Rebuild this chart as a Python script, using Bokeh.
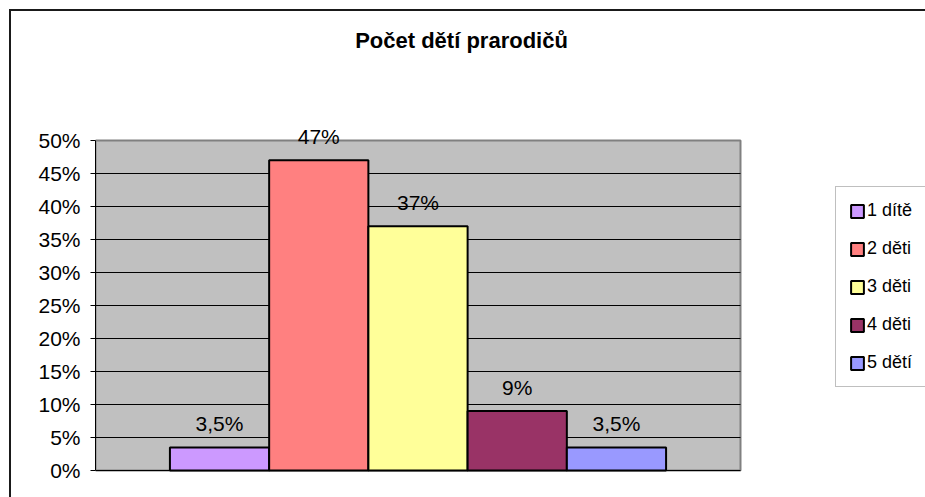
from bokeh.plotting import figure
from bokeh.models import (ColumnDataSource, Range1d, FixedTicker, PrintfTickFormatter)
from bokeh.core.properties import value
from bokeh.embed import file_html
from bokeh.resources import INLINE

# ---- data ----
title_text = "Počet dětí prarodičů"
categories = ["1 dítě", "2 děti", "3 děti", "4 děti", "5 dětí"]
values = [3.5, 47, 37, 9, 3.5]
value_labels = ["3,5%", "47%", "37%", "9%", "3,5%"]
colors = ["#CC99FF", "#FF8080", "#FFFF99", "#993366", "#9999FF"]
y_ticks = [0, 5, 10, 15, 20, 25, 30, 35, 40, 45, 50]

FONT = "Liberation Sans"

# ---- layout (pixels) ----
W, H = 925, 497
PLOT_L, PLOT_R, PLOT_T, PLOT_B = 95, 740, 140, 470     # gray plot area on the page
GAP = 0.75                                            # half of Excel gap width (150%)
n = len(categories)
x_lo, x_hi = 1 - 0.5 - GAP, n + 0.5 + GAP             # plot-area extent in data units
y_lo, y_hi = y_ticks[0], y_ticks[-1]
px_x = (PLOT_R - PLOT_L) / (x_hi - x_lo)
px_y = (PLOT_B - PLOT_T) / (y_hi - y_lo)

x_range = Range1d(x_lo, x_lo + (W - PLOT_L) / px_x)
y_range = Range1d(y_lo - (H - PLOT_B) / px_y, y_hi + PLOT_T / px_y)

def data_x(px):
    return x_lo + (px - PLOT_L) / px_x

def data_y(py):
    return y_hi + (PLOT_T - py) / px_y

src = ColumnDataSource(dict(
    x=list(range(1, n + 1)),
    value=values,
    category=categories,
    label=value_labels,
    color=colors,
))

p = figure(width=W, height=H, output_backend="svg", toolbar_location=None,
           x_range=x_range, y_range=y_range, title=None,
           min_border_left=PLOT_L, min_border_right=0,
           min_border_top=0, min_border_bottom=0)
p.background_fill_alpha = 0
p.border_fill_alpha = 0
p.outline_line_color = None
# outer chart frame (left and top edges are visible in the reference)
p.styles = {"box-shadow": "inset 9px 9px 0 0 #ffffff, inset 11px 11px 0 0 #1a1a1a"}

# plot area
p.quad(left=[x_lo], right=[x_hi], bottom=[y_lo], top=[y_hi],
       fill_color="#C0C0C0", line_color="#808080", line_width=2)
# horizontal gridlines at the tick values (below the top edge)
grid_y = [t for t in y_ticks if t < y_hi]
p.segment(x0=[x_lo] * len(grid_y), x1=[x_hi] * len(grid_y), y0=grid_y, y1=grid_y,
          line_color="black", line_width=1)

# bars
p.vbar(x="x", top="value", width=1.0, bottom=0, source=src,
       fill_color="color", line_color="black", line_width=2,
       legend_field="category")

# data labels
p.text(x="x", y="value", text="label", source=src, text_align="center",
       text_baseline="alphabetic", y_offset=-24,
       text_font=value(FONT), text_font_size="21px", text_color="black")

# title
p.text(x=[data_x(461)], y=[data_y(40)], text=[title_text], text_align="center",
       text_baseline="alphabetic", text_font=value(FONT), text_font_size="22px",
       text_font_style="bold", text_color="black")

# axes
p.xaxis.visible = False
p.xgrid.visible = False
p.ygrid.visible = False
yax = p.yaxis[0]
yax.bounds = (y_lo, y_hi)
yax.ticker = FixedTicker(ticks=y_ticks)
yax.formatter = PrintfTickFormatter(format="%d%%")
yax.major_tick_in = 0
yax.major_tick_out = 5
yax.minor_tick_line_color = None
yax.axis_line_color = "black"
yax.major_tick_line_color = "black"
yax.major_label_standoff = 10
yax.major_label_text_font = FONT
yax.major_label_text_font_size = "21px"
yax.major_label_text_color = "black"

# legend
lg = p.legend[0]
lg.location = (835 - PLOT_L, H - 387)
lg.label_text_font = FONT
lg.label_text_font_size = "18px"
lg.label_text_color = "black"
lg.glyph_width = 16
lg.glyph_height = 16
lg.label_height = 20
lg.label_standoff = 2
lg.spacing = 17
lg.padding = 13
lg.margin = 0
lg.border_line_color = "#808080"
lg.border_line_width = 1
lg.background_fill_color = "white"
lg.background_fill_alpha = 1

open("out.html", "w").write(file_html(p, INLINE))
